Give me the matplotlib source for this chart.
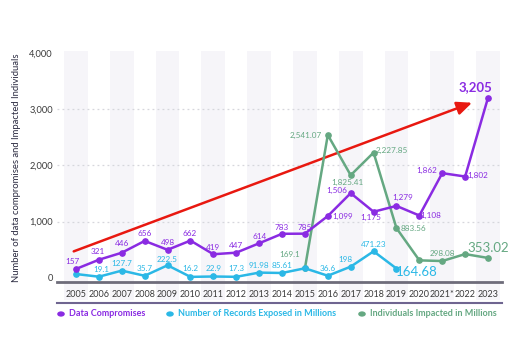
import matplotlib
matplotlib.use("Agg")
import matplotlib.pyplot as plt
from matplotlib.patches import Rectangle
import matplotlib.transforms as mtransforms

years = list(range(2005, 2024))
year_labels = [str(y) for y in years]
year_labels[16] = "2021*"

compromises = [157, 321, 446, 656, 498, 662, 419, 447, 614, 783, 785,
               1099, 1506, 1175, 1279, 1108, 1862, 1802, 3205]
compromise_labels = ["157", "321", "446", "656", "498", "662", "419", "447", "614", "783", "785",
                     "1,099", "1,506", "1,175", "1,279", "1,108", "1,862", "1,802", "3,205"]

records_years = list(range(2005, 2020))
records = [66.9, 19.1, 127.7, 35.7, 222.5, 16.2, 22.9, 17.3, 91.98, 85.61, 169.1,
           36.6, 198, 471.23, 164.68]
records_labels = ["", "19.1", "127.7", "35.7", "222.5", "16.2", "22.9", "17.3", "91.98", "85.61", "",
                  "36.6", "198", "471.23", "164.68"]

individuals_years = list(range(2015, 2024))
individuals = [169.1, 2541.07, 1825.41, 2227.85, 883.56, 310, 298.08, 422, 353.02]
individuals_labels = ["169.1", "2,541.07", "1,825.41", "2,227.85", "883.56", "", "298.08", "", "353.02"]

y_ticks = [0, 1000, 2000, 3000, 4000]
y_tick_labels = ["0", "1,000", "2,000", "3,000", "4,000"]

arrow_start = (2004.9, 470)
arrow_end = (2022.3, 3115)

PURPLE = "#8a2be2"
CYAN = "#2bb8e6"
GREEN = "#65a882"
RED = "#e81810"

plt.rcParams['font.family'] = ['Lato', 'DejaVu Sans']

fig = plt.figure(figsize=(5.2, 3.62), dpi=100)
ax = fig.add_axes([57/520, 1-282/362, (502-57)/520, (282-53)/362])
ax.set_xlim(2004.17, 2023.61)
ax.set_ylim(-75, 4000)

# background bands on alternating years
trans = mtransforms.blended_transform_factory(ax.transData, ax.transAxes)
for y in years[::2]:
    r = Rectangle((y - 0.52, -0.08), 1.04, 1.09, transform=trans,
                  facecolor="#f6f5f9", edgecolor="none", zorder=0, clip_on=False)
    ax.add_patch(r)

for gy in y_ticks[1:-1]:
    ax.axhline(gy, color="#d6d6dc", lw=0.9, ls=(0, (1.5, 2.5)), zorder=1)
ax.spines['bottom'].set_color("#6e6c7a")
ax.spines['bottom'].set_linewidth(2.0)
ax.spines['bottom'].set_zorder(2)
for k in ['top', 'left', 'right']:
    ax.spines[k].set_visible(False)
ax.plot([0, 1.0], [-0.092, -0.092], transform=ax.transAxes, color="#6f6590",
        lw=1.5, clip_on=False, zorder=2)

ax.set_yticks(y_ticks)
ax.set_yticklabels(y_tick_labels, fontsize=6.7, color="#3a3a3a")
ax.set_xticks(years)
ax.set_xticklabels(year_labels, fontsize=6.5, color="#3a3a3a")
ax.tick_params(length=0)
ax.tick_params(axis='x', pad=6)
ax.tick_params(axis='y', pad=3)
fig.text(17/520, 1-167.5/362, "Number of data compromises and Impacted Individuals",
         rotation=90, fontsize=6.8, color="#2a2a40", ha="center", va="center")

# arrow
ax.annotate("", xy=arrow_end, xytext=arrow_start,
            arrowprops=dict(arrowstyle="-|>,head_length=0.9,head_width=0.4",
                            color=RED, lw=1.8, shrinkA=0, shrinkB=0), zorder=3)

ax.plot(individuals_years, individuals, color=GREEN, lw=1.8, marker="o", ms=3.8, zorder=4)
ax.plot(records_years, records, color=CYAN, lw=1.8, marker="o", ms=3.8, zorder=5)
ax.plot(years, compromises, color=PURPLE, lw=1.8, marker="o", ms=3.8, zorder=6)

comp_off = [(-4, 7), (-1, 8), (0, 9), (0, 7), (0, 7), (-1, 7), (0, 7), (0, 7), (0, 7), (0, 6), (0, 6),
            (15, 0), (-14, 3), (-3, -6), (6, 8), (11, 0), (-15, 3), (13, 1), (-13, 11)]
for x, v, lab, off in zip(years, compromises, compromise_labels, comp_off):
    big = lab == "3,205"
    ax.annotate(lab, (x, v), xytext=off, textcoords="offset pixels", ha="center", va="center",
                fontsize=9.5 if big else 5.9, color=PURPLE, zorder=7,
                fontweight="bold" if big else "normal")

rec_off = [(0, 7), (2, 7), (0, 7), (0, 7), (0, 6), (0, 8), (0, 8), (0, 8), (0, 7), (0, 7), (0, 7),
           (0, 7), (-5, 7), (0, 7), (20, -3)]
for x, v, lab, off in zip(records_years, records, records_labels, rec_off):
    if not lab:
        continue
    big = lab == "164.68"
    ax.annotate(lab, (x, v), xytext=off, textcoords="offset pixels", ha="center", va="center",
                fontsize=9.5 if big else 5.9, color=CYAN, zorder=7)

ind_off = [(-15, 14), (-22, 0), (-3, -7), (18, 2), (17, 0), (0, 8), (0, 8), (0, 8), (0, 10)]
for x, v, lab, off in zip(individuals_years, individuals, individuals_labels, ind_off):
    if not lab:
        continue
    big = lab == "353.02"
    ax.annotate(lab, (x, v), xytext=off, textcoords="offset pixels", ha="center", va="center",
                fontsize=9.5 if big else 5.9, color=GREEN, zorder=7)

# legend
leg_items = [("Data Compromises", PURPLE, 61), ("Number of Records Exposed in Millions", CYAN, 170),
             ("Individuals Impacted in Millions", GREEN, 362)]
for text, col, px in leg_items:
    fig.patches.append(plt.Circle((px/520, 1-314/362), 3.8/520, transform=fig.transFigure,
                                  facecolor=col, edgecolor="none"))
    fig.text((px+8)/520, 1-314/362, text, color=col, fontsize=6.5, fontweight="bold",
             va="center", ha="left")

fig.savefig("out.png", dpi=100, facecolor="white")
